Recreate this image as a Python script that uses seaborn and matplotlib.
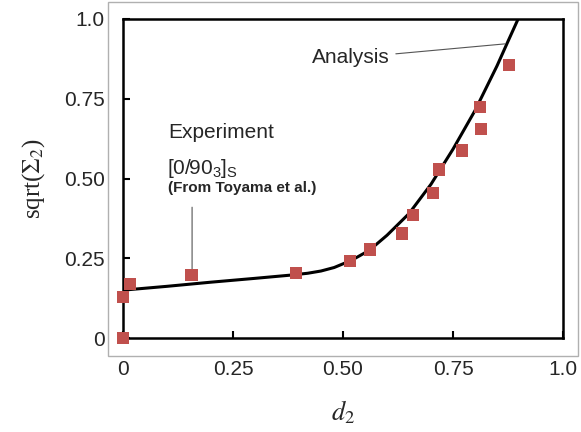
import matplotlib
matplotlib.use("Agg")
import matplotlib.pyplot as plt
import seaborn as sns
import pandas as pd
from matplotlib.patches import Rectangle

# Experiment points (Toyama et al.)
exp_d2 = [0.0, 0.0, 0.016, 0.156, 0.393, 0.516, 0.561, 0.634, 0.659, 0.705, 0.718, 0.770, 0.811, 0.813, 0.877]
exp_val = [0.0, 0.128, 0.169, 0.197, 0.203, 0.241, 0.278, 0.328, 0.386, 0.454, 0.528, 0.588, 0.725, 0.656, 0.856]

# Analysis curve
ana_d2 = [0.0, 0.1, 0.2, 0.3, 0.38, 0.42, 0.45, 0.48, 0.52, 0.56, 0.6, 0.65, 0.7, 0.75, 0.8, 0.85, 0.875, 0.898]
ana_val = [0.15, 0.162, 0.175, 0.187, 0.197, 0.203, 0.210, 0.221, 0.244, 0.275, 0.322, 0.39, 0.482, 0.592, 0.713, 0.853, 0.93, 1.0]

tick_vals = [0, 0.25, 0.5, 0.75, 1.0]
tick_labels = ["0", "0.25", "0.50", "0.75", "1.0"]

sns.set_style("white")
plt.rcParams["font.family"] = ["Liberation Sans", "DejaVu Sans"]
plt.rcParams["mathtext.fontset"] = "custom"
plt.rcParams["mathtext.rm"] = "Liberation Sans"
plt.rcParams["mathtext.it"] = "Liberation Sans:italic"

exp_df = pd.DataFrame({"d2": exp_d2, "val": exp_val})
ana_df = pd.DataFrame({"d2": ana_d2, "val": ana_val})

fig = plt.figure(figsize=(5.81, 4.32), dpi=100)
ax = fig.add_axes([123 / 581, 1 - 338 / 432, 440 / 581, 319 / 432])

sns.lineplot(data=ana_df, x="d2", y="val", ax=ax, color="black", lw=2.2, clip_on=True)
sns.scatterplot(data=exp_df, x="d2", y="val", ax=ax, marker="s", s=80,
                color="#C0504D", edgecolor="none", clip_on=False, zorder=5)

ax.set_xlim(0, 1.0)
ax.set_ylim(0, 1.0)
ax.set_xticks(tick_vals)
ax.set_xticklabels(tick_labels)
ax.set_yticks(tick_vals)
ax.set_yticklabels(tick_labels)
ax.tick_params(axis="x", bottom=True, direction="in", length=5, width=1.5, pad=16, labelsize=15, color="black")
ax.tick_params(axis="y", left=True, direction="in", length=5, width=1.5, pad=13, labelsize=15, color="black")
for sp in ax.spines.values():
    sp.set_visible(True)
    sp.set_color("black")
    sp.set_linewidth(1.8)

ax.set_xlabel("$d_2$", fontsize=19, family="Liberation Serif", math_fontfamily="stix", labelpad=14)
ax.set_ylabel(r"sqrt($\mathit{Σ}_2$)", fontsize=18, family="Liberation Serif",
              math_fontfamily="stix", labelpad=12)

# annotations
ax.annotate("Analysis", xy=(0.868, 0.922), xytext=(0.518, 0.878),
            ha="center", va="center", fontsize=15,
            arrowprops=dict(arrowstyle="-", color="#555555", lw=0.8, shrinkA=2, shrinkB=0))
ax.text(0.102, 0.644, "Experiment", ha="left", va="center", fontsize=15)
ax.text(0.100, 0.531, r"[0/90$_3$]$_\mathrm{S}$", ha="left", va="center", fontsize=15)
ax.text(0.102, 0.469, "(From Toyama et al.)", ha="left", va="center", fontsize=11, fontweight="bold")
ax.annotate("", xy=(0.157, 0.206), xytext=(0.157, 0.41),
            arrowprops=dict(arrowstyle="-", color="#555555", lw=0.8, shrinkA=0, shrinkB=0))

# outer light frame
fig.add_artist(Rectangle((108 / 581, 1 - 356 / 432), 470 / 581, 354 / 432,
                         transform=fig.transFigure, fill=False, edgecolor="#b0b0b0", lw=1))

fig.savefig("out.png", dpi=100)
